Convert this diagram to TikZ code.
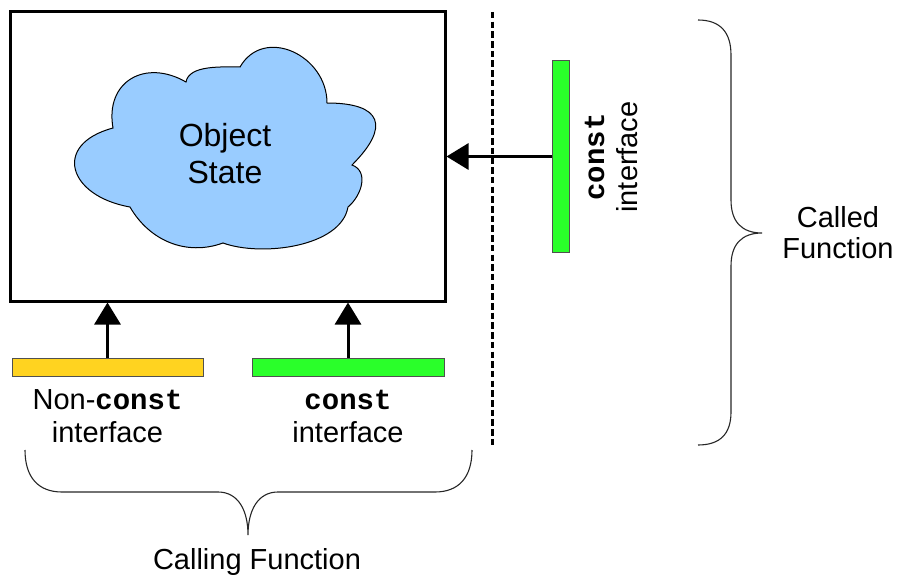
\documentclass[tikz,border=0pt]{standalone}
\usepackage{fontspec}
\setmainfont{Liberation Sans}
\setmonofont{Liberation Mono}
\usetikzlibrary{arrows.meta}
\definecolor{cloudblue}{HTML}{99CCFF}
\definecolor{ifyellow}{HTML}{FFD320}
\definecolor{ifgreen}{HTML}{2AFF2A}
\definecolor{barline}{HTML}{505050}
\newcommand{\kw}{\textbf{\ttfamily const}}
\begin{document}
\begin{tikzpicture}[x=1pt,y=1pt,
  objbox/.style={draw,line width=3pt,minimum width=435pt,minimum height=289pt,inner sep=0pt},
  ifbar/.style={draw=barline,line width=1pt,inner sep=0pt},
  callarrow/.style={line width=3pt,-{Triangle[length=22pt,width=26pt]}},
  brace/.style={line width=1.1pt,draw=black!85},
  lbl/.style={font=\fontsize{29}{33}\selectfont,align=center,inner sep=0pt}]
\useasboundingbox (0,0) rectangle (899,-578);
% main object box
\node[objbox] (box) at (227.5,-156.5) {};
% cloud
\draw[fill=cloudblue,line width=1pt]
  (113,-128) to[out=100,in=150,looseness=1.4] (186,-82)
  to[out=80,in=180,looseness=0.8] (240,-67)
  to[out=60,in=90,looseness=1.3] (327,-103)
  to[out=0,in=45,looseness=2.1] (352,-165)
  to[out=-20,in=40,looseness=1.1] (348,-207)
  to[out=-100,in=-20,looseness=0.8] (223,-243)
  to[out=-160,in=-60,looseness=1] (130,-207)
  to[out=170,in=195,looseness=2.0] cycle;
\node[lbl,font=\fontsize{32}{37}\selectfont] (state) at (225,-154) {Object\\State};
% dashed boundary
\coordinate (dtop) at (492,-12);
\coordinate (dbot) at (492,-445);
\draw[line width=3pt,dash pattern=on 6.5pt off 3.2pt] (dtop) -- (dbot);
% interfaces
\node[ifbar,fill=ifyellow,minimum width=191pt,minimum height=18pt] (ybar) at (107.5,-367) {};
\node[ifbar,fill=ifgreen,minimum width=192pt,minimum height=18pt] (gbar) at (348,-367) {};
\node[ifbar,fill=ifgreen,minimum width=17pt,minimum height=191pt] (rbar) at (560.5,-156.5) {};
% arrows
\draw[callarrow] (ybar.north) -- (ybar.north |- box.south);
\draw[callarrow] (gbar.north) -- (gbar.north |- box.south);
\draw[callarrow] (rbar.west) -- (rbar.west -| box.east);
% labels
\node[lbl] (ylbl) at (107.5,-416) {Non-\kw\\interface};
\node[lbl] (glbl) at (348,-416) {\kw\\interface};
\node[lbl,rotate=90] (rlbl) at (611,-157) {\kw\\interface};
% right brace
\coordinate (rb1) at (698,-20);
\coordinate (rb2) at (762,-233);
\coordinate (rb3) at (698,-445);
\draw[brace] (rb1) .. controls (720,-20) and (731,-32) .. (731,-55) -- (731,-200)
  .. controls (731,-222) and (742,-233) .. (rb2)
  .. controls (742,-233) and (731,-244) .. (731,-266) -- (731,-412)
  .. controls (731,-434) and (720,-445) .. (rb3);
\node[lbl,font=\fontsize{29}{31}\selectfont] (called) at (838,-233) {Called\\Function};
% bottom brace
\coordinate (bb1) at (25,-450);
\coordinate (bb2) at (248,-535);
\coordinate (bb3) at (472,-450);
\draw[brace] (bb1) .. controls (25,-477) and (38,-492) .. (62,-492) -- (218,-492)
  .. controls (238,-492) and (248,-510) .. (bb2)
  .. controls (248,-510) and (258,-492) .. (278,-492) -- (435,-492)
  .. controls (459,-492) and (472,-477) .. (bb3);
\node[lbl] (calling) at (257,-562) {Calling Function};
\end{tikzpicture}
\end{document}
